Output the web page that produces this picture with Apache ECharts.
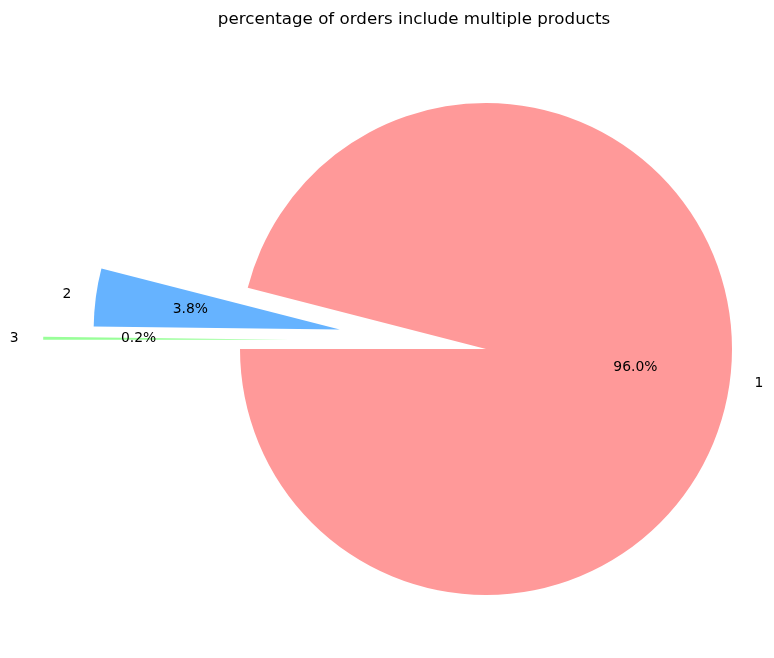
<!DOCTYPE html>
<html><head><meta charset="utf-8">
<script src="https://cdn.jsdelivr.net/npm/echarts@6/dist/echarts.min.js"></script>
<style>html,body{margin:0;padding:0;background:#fff}#c{width:774px;height:658px}</style>
</head><body><div id="c"></div>
<script>
const categories = ['1', '2', '3'];
const values = [96.0, 3.8, 0.2];
const explode = [0, 0.6, 0.8];
const colors = ['#ff9999', '#66b3ff', '#99ff99'];

const R = 246;
const center = [486, 349];
const centerNudgeY = [0, 0, -8];
const font = 'DejaVu Sans';
const total = values.reduce((a, b) => a + b, 0);

const series = [];
categories.forEach((cat, i) => {
  const c = [center[0], center[1] + centerNudgeY[i]];
  const mkData = (visible) => categories.map((n, j) => ({
    name: n,
    value: values[j],
    selected: j === i && explode[i] > 0,
    itemStyle: { color: (visible && j === i) ? colors[j] : 'rgba(0,0,0,0)', borderWidth: 0 },
    label: { show: j === i }
  }));
  series.push({
    type: 'pie', radius: [0, R], center: c,
    startAngle: 180, clockwise: false,
    selectedMode: 'multiple', selectedOffset: explode[i] * R,
    avoidLabelOverlap: false, silent: true, animation: false,
    minAngle: 0, minShowLabelAngle: 0,
    emphasis: { disabled: true },
    labelLayout: { hideOverlap: false },
    label: { position: 'outside', color: '#000', fontFamily: font, fontSize: 13.9,
             overflow: 'none', formatter: '{b}', distanceToLabelLine: 0 },
    labelLine: { show: false, length: 0.1 * R, length2: 0 },
    data: mkData(true)
  });
  series.push({
    type: 'pie', radius: [0, 1.2 * R], center: c,
    startAngle: 180, clockwise: false,
    selectedMode: 'multiple', selectedOffset: explode[i] * R,
    avoidLabelOverlap: false, silent: true, animation: false,
    minAngle: 0, minShowLabelAngle: 0,
    emphasis: { disabled: true },
    labelLayout: { hideOverlap: false },
    label: { position: 'inside', color: '#000', fontFamily: font, fontSize: 13.9,
             overflow: 'none',
             formatter: p => (p.value / total * 100).toFixed(1) + '%' },
    labelLine: { show: false },
    data: mkData(false)
  });
});

const chart = echarts.init(document.getElementById('c'), null, { renderer: 'canvas' });
chart.setOption({
  backgroundColor: '#fff',
  title: { text: 'percentage of orders include multiple products', left: 409, top: 6,
           textAlign: 'center',
           textStyle: { fontFamily: font, fontSize: 16.7, fontWeight: 'normal', color: '#000' } },
  series: series
});
</script></body></html>
